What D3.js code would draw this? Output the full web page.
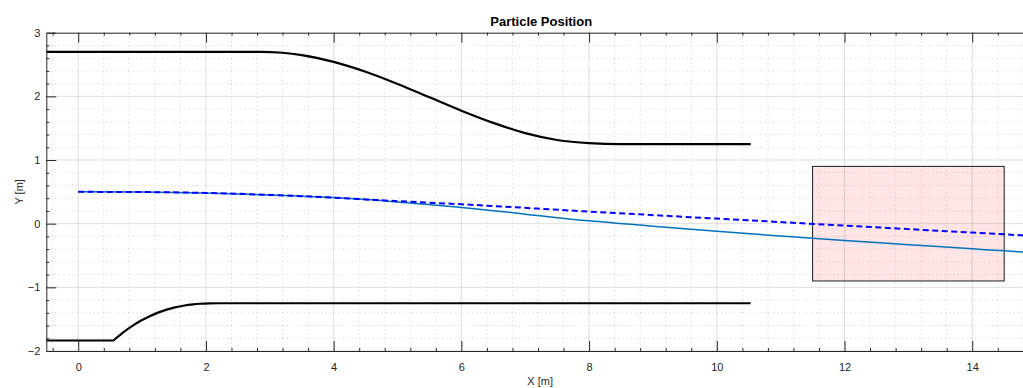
<!DOCTYPE html>
<html>
<head>
<meta charset="utf-8">
<script src="https://cdn.jsdelivr.net/npm/d3@7"></script>
<style>
  body { margin: 0; background: #fff; }
  svg { display: block; }
  text { font-family: "Liberation Sans", Arial, Helvetica, sans-serif; }
</style>
</head>
<body>
<svg id="chart" width="1023" height="388"></svg>
<script>
// Axis ticks
const xTicks = [0, 2, 4, 6, 8, 10, 12, 14];
const yTicks = [-2, -1, 0, 1, 2, 3];

// Upper channel wall
const upperWallX = [-0.5, 2.85, 3.2, 3.5, 4.0, 4.5, 5.0, 5.5, 6.0, 6.5, 7.0, 7.5, 8.0, 8.5, 10.53];
const upperWallY = [2.70, 2.70, 2.685, 2.648, 2.541, 2.386, 2.195, 1.985, 1.775, 1.583, 1.423, 1.315, 1.265, 1.25, 1.25];

// Lower channel wall: straight inlet, then the curved section
const lowerInletX = [-0.5, 0.55];
const lowerInletY = [-1.835, -1.835];
const lowerWallX = [0.55, 0.7, 0.86, 1.0, 1.12, 1.25, 1.385, 1.5, 1.644, 1.8, 1.906, 2.05, 2.2, 10.53];
const lowerWallY = [-1.835, -1.711, -1.598, -1.514, -1.453, -1.397, -1.350, -1.318, -1.289, -1.267, -1.258, -1.2515, -1.25, -1.25];

// Particle trajectory (solid) and straight-line reference (dashed)
const pathX = [0, 1, 2, 3, 4, 4.6, 5, 6, 7, 8, 9, 10, 11, 12, 13, 14, 14.5, 15];
const pathY = [0.5, 0.497, 0.483, 0.452, 0.41, 0.375, 0.34, 0.255, 0.15, 0.045, -0.04, -0.12, -0.195, -0.265, -0.33, -0.395, -0.427, -0.46];
const refX = [0, 1, 2, 3, 4, 4.6, 6, 8, 10, 12, 14, 15];
const refY = [0.5, 0.497, 0.483, 0.452, 0.41, 0.375, 0.305, 0.19, 0.08, -0.03, -0.14, -0.195];

// Detector region
const boxX = [11.5, 14.5];
const boxY = [-0.9, 0.9];

const svg = d3.select("#chart");
const plotLeft = 46.3, plotRight = 1036.1, plotTop = 32.7, plotBottom = 351;
const x = d3.scaleLinear().domain([-0.5, 15]).range([plotLeft, plotRight]);
const y = d3.scaleLinear().domain([-2, 3]).range([plotBottom, plotTop]);
const axisColor = "#262626";

svg.append("defs").append("clipPath").attr("id", "plotClip")
  .append("rect").attr("x", plotLeft).attr("y", plotTop)
  .attr("width", plotRight - plotLeft).attr("height", plotBottom - plotTop);

const plot = svg.append("g").attr("clip-path", "url(#plotClip)");

// shaded detector region
plot.append("rect")
  .attr("x", x(boxX[0])).attr("y", y(boxY[1]))
  .attr("width", x(boxX[1]) - x(boxX[0])).attr("height", y(boxY[0]) - y(boxY[1]))
  .attr("fill", "red").attr("fill-opacity", 0.1);

// minor grid (dotted)
const xMinor = d3.range(-0.4, 15.01, 0.4).filter(v => Math.abs(v / 2 - Math.round(v / 2)) > 1e-6);
const yMinor = d3.range(-1.8, 3, 0.2).filter(v => Math.abs(v - Math.round(v)) > 1e-6);
const grid = plot.append("g");
grid.selectAll("line.mx").data(xMinor).join("line")
  .attr("x1", d => x(d)).attr("x2", d => x(d)).attr("y1", plotTop).attr("y2", plotBottom)
  .attr("stroke", axisColor).attr("stroke-opacity", 0.28).attr("stroke-width", 0.8)
  .attr("stroke-dasharray", "1,3.3");
grid.selectAll("line.my").data(yMinor).join("line")
  .attr("y1", d => y(d)).attr("y2", d => y(d)).attr("x1", plotLeft).attr("x2", plotRight)
  .attr("stroke", axisColor).attr("stroke-opacity", 0.28).attr("stroke-width", 0.8)
  .attr("stroke-dasharray", "1,3.3");
// major grid
grid.selectAll("line.gx").data(xTicks).join("line")
  .attr("x1", d => x(d)).attr("x2", d => x(d)).attr("y1", plotTop).attr("y2", plotBottom)
  .attr("stroke", axisColor).attr("stroke-opacity", 0.15).attr("stroke-width", 1);
grid.selectAll("line.gy").data(yTicks).join("line")
  .attr("y1", d => y(d)).attr("y2", d => y(d)).attr("x1", plotLeft).attr("x2", plotRight)
  .attr("stroke", axisColor).attr("stroke-opacity", 0.15).attr("stroke-width", 1);

// region outline
plot.append("rect")
  .attr("x", x(boxX[0])).attr("y", y(boxY[1]))
  .attr("width", x(boxX[1]) - x(boxX[0])).attr("height", y(boxY[0]) - y(boxY[1]))
  .attr("fill", "none").attr("stroke", "#1a1a1a").attr("stroke-width", 1);

const line = d3.line().x(d => x(d[0])).y(d => y(d[1])).curve(d3.curveMonotoneX);
const zip = (a, b) => a.map((v, i) => [v, b[i]]);

// walls: inlet and curved section joined into one stroke
const lowerD = line(zip(lowerInletX, lowerInletY)) + line(zip(lowerWallX, lowerWallY)).replace(/^M/, "L");
plot.append("path").datum(zip(upperWallX, upperWallY)).attr("d", line)
  .attr("fill", "none").attr("stroke", "#000").attr("stroke-width", 2.2);
plot.append("path").attr("d", lowerD)
  .attr("fill", "none").attr("stroke", "#000").attr("stroke-width", 2.2)
  .attr("stroke-linejoin", "round");
plot.append("path").datum(zip(pathX, pathY)).attr("d", line)
  .attr("fill", "none").attr("stroke", "#0072BD").attr("stroke-width", 1.5);
plot.append("path").datum(zip(refX, refY)).attr("d", line)
  .attr("fill", "none").attr("stroke", "#0000FF").attr("stroke-width", 2)
  .attr("stroke-dasharray", "6,3.5");

// axes
function styleAxis(g) {
  g.selectAll("path.domain").attr("stroke", axisColor);
  g.selectAll(".tick line").attr("stroke", axisColor);
  g.selectAll(".tick text").attr("fill", axisColor).attr("font-size", 11);
}
svg.append("g").attr("transform", `translate(0,${plotBottom})`)
  .call(d3.axisBottom(x).tickValues(xTicks).tickSize(-10).tickSizeOuter(0).tickPadding(12))
  .call(styleAxis);
svg.append("g").attr("transform", `translate(0,${plotTop})`)
  .call(d3.axisTop(x).tickValues(xTicks).tickSize(-10).tickSizeOuter(0).tickFormat(""))
  .call(styleAxis);
svg.append("g").attr("transform", `translate(${plotLeft},0)`)
  .call(d3.axisLeft(y).tickValues(yTicks).tickSize(-10).tickSizeOuter(0).tickPadding(6)
    .tickFormat(d3.format("d")))
  .call(styleAxis);
// minor ticks
[[plotBottom, d3.axisBottom], [plotTop, d3.axisTop]].forEach(([py, ax]) => {
  const g = svg.append("g").attr("transform", `translate(0,${py})`)
    .call(ax(x).tickValues(xMinor).tickSize(-3).tickFormat(""));
  g.select("path.domain").remove();
  g.selectAll(".tick line").attr("stroke", axisColor);
});
{
  const g = svg.append("g").attr("transform", `translate(${plotLeft},0)`)
    .call(d3.axisLeft(y).tickValues(yMinor).tickSize(-3).tickFormat(""));
  g.select("path.domain").remove();
  g.selectAll(".tick line").attr("stroke", axisColor);
}

// labels
svg.append("text").attr("x", (plotLeft + plotRight) / 2).attr("y", 25.5)
  .attr("text-anchor", "middle").attr("font-weight", "bold").attr("font-size", 13)
  .attr("fill", "#000").text("Particle Position");
svg.append("text").attr("x", (plotLeft + plotRight) / 2 - 1).attr("y", 385)
  .attr("text-anchor", "middle").attr("font-size", 11).attr("fill", axisColor).text("X [m]");
svg.append("text").attr("transform", `translate(23,${(plotTop + plotBottom) / 2}) rotate(-90)`)
  .attr("text-anchor", "middle").attr("font-size", 11).attr("fill", axisColor).text("Y [m]");
</script>
</body>
</html>
